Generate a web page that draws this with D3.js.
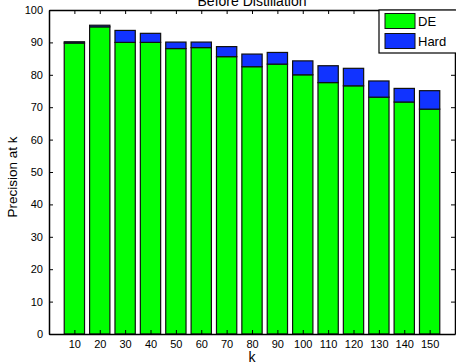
<!DOCTYPE html>
<html><head><meta charset="utf-8">
<script src="https://cdn.jsdelivr.net/npm/d3@7"></script>
<style>body{margin:0;background:#fff;} svg{display:block;font-family:"Liberation Sans",Arial,sans-serif;}</style>
</head><body>
<script>
const categories = ["10","20","30","40","50","60","70","80","90","100","110","120","130","140","150"];
const deValues   = [89.8, 94.8, 90.0, 90.0, 88.1, 88.4, 85.6, 82.5, 83.3, 80.0, 77.6, 76.6, 73.1, 71.6, 69.4];
const hardValues = [0.4, 0.5, 3.7, 2.8, 2.0, 1.7, 3.1, 3.9, 3.6, 4.3, 5.2, 5.4, 5.0, 4.2, 5.7];
const seriesNames = ["DE", "Hard"];
const yTicks = [0,10,20,30,40,50,60,70,80,90,100];

const W = 456, H = 364;
const L = 49, R = 455, T = 10, B = 334;
const svg = d3.select("body").append("svg").attr("width", W).attr("height", H);

const xPos = d3.scaleLinear().domain([0, categories.length + 1]).range([L, R]);
const y = d3.scaleLinear().domain([0, 100]).range([B, T]);
const unit = xPos(1) - xPos(0);
const bw = unit * 0.8;

const colors = ["#00ff00", "#1133ff"];
const stackData = categories.map((c, i) => ({k: c, i: i, DE: deValues[i], Hard: hardValues[i]}));
const stack = d3.stack().keys(seriesNames)(stackData);

svg.append("rect").attr("x", L).attr("y", T).attr("width", R - L).attr("height", B - T).attr("fill", "#fff");

stack.forEach((s, si) => {
  svg.append("g").selectAll("rect").data(s).join("rect")
    .attr("x", d => xPos(d.data.i + 1) - bw / 2)
    .attr("width", bw)
    .attr("y", d => y(d[1]))
    .attr("height", d => y(d[0]) - y(d[1]))
    .attr("fill", colors[si])
    .attr("stroke", "#111")
    .attr("stroke-width", 1.2);
});

// axes
const tickLen = 4;
const axL = d3.axisLeft(y).tickValues(yTicks).tickSizeInner(-tickLen).tickSizeOuter(0).tickPadding(6);
const gL = svg.append("g").attr("transform", `translate(${L},0)`).call(axL);
const axR = d3.axisRight(y).tickValues(yTicks).tickSizeInner(-tickLen).tickSizeOuter(0).tickFormat("");
const gR = svg.append("g").attr("transform", `translate(${R},0)`).call(axR);
const xTickVals = categories.map((c, i) => i + 1);
const axB = d3.axisBottom(xPos).tickValues(xTickVals).tickFormat((d) => categories[d - 1]).tickSizeInner(-tickLen).tickSizeOuter(0).tickPadding(6);
const gB = svg.append("g").attr("transform", `translate(0,${B})`).call(axB);
const axT = d3.axisTop(xPos).tickValues(xTickVals).tickFormat("").tickSizeInner(-tickLen).tickSizeOuter(0);
const gT = svg.append("g").attr("transform", `translate(0,${T})`).call(axT);
[gL, gR, gB, gT].forEach(g => {
  g.selectAll("path.domain").attr("stroke", "#000").attr("stroke-width", 1.5);
  g.selectAll(".tick line").attr("stroke", "#000");
  g.selectAll(".tick text").attr("font-size", 11).attr("fill", "#000").attr("font-family", "Liberation Sans, Arial, sans-serif");
});
gB.raise();

// title and labels
svg.append("text").attr("x", (L + R) / 2).attr("y", 6).attr("text-anchor", "middle")
  .attr("font-size", 14).text("Before Distillation");
svg.append("text").attr("x", (L + R) / 2).attr("y", 362).attr("text-anchor", "middle")
  .attr("font-size", 14).text("k");
svg.append("text").attr("transform", `translate(17,177) rotate(-90)`).attr("text-anchor", "middle")
  .attr("font-size", 13.5).text("Precision at k");

// legend
const lg = svg.append("g");
lg.append("rect").attr("x", 379).attr("y", T).attr("width", 90).attr("height", 43)
  .attr("fill", "#fff").attr("stroke", "#000").attr("stroke-width", 1.2);
seriesNames.forEach((n, i) => {
  lg.append("rect").attr("x", 385).attr("y", 13.5 + i * 20).attr("width", 30).attr("height", 15)
    .attr("fill", colors[i]).attr("stroke", "#111").attr("stroke-width", 1);
  lg.append("text").attr("x", 418).attr("y", 26 + i * 20).attr("font-size", 13).text(n);
});
</script>
</body></html>
